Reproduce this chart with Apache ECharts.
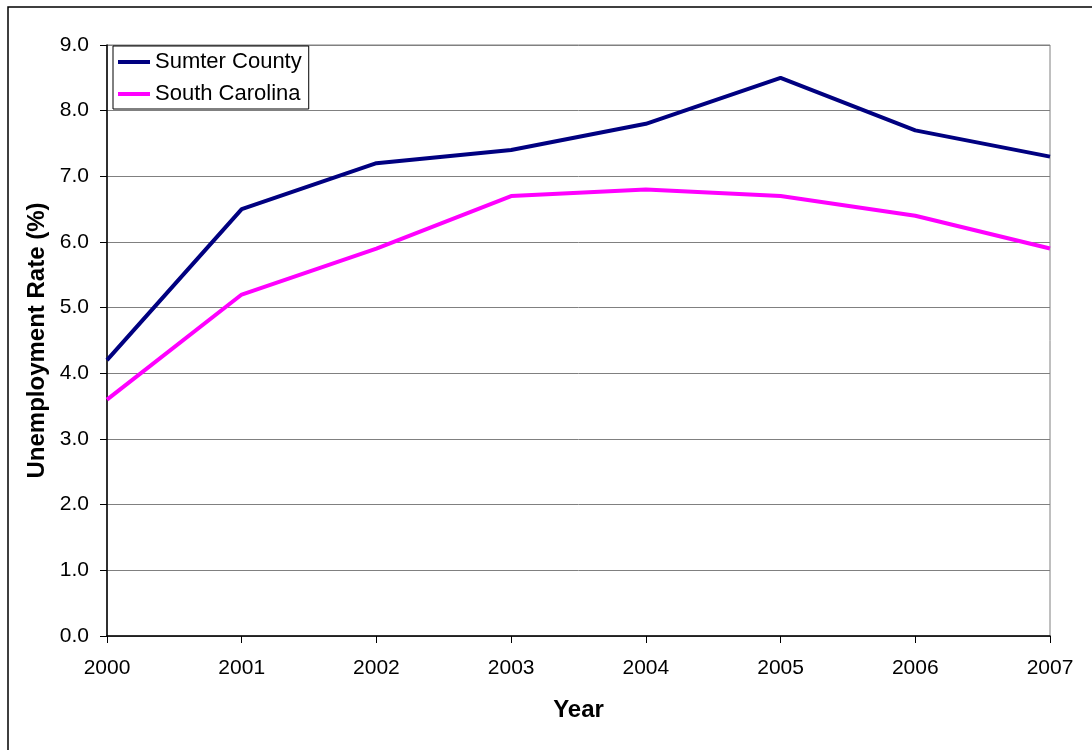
<!DOCTYPE html>
<html>
<head>
<meta charset="utf-8">
<script src="https://cdn.jsdelivr.net/npm/echarts@6/dist/echarts.min.js"></script>
<style>
  html, body { margin: 0; padding: 0; background: #fff; }
  #chart { width: 1092px; height: 750px; }
</style>
</head>
<body>
<div id="chart"></div>
<script>
// Annual unemployment rates, 2000-2007
const years = ['2000', '2001', '2002', '2003', '2004', '2005', '2006', '2007'];
const sumterCounty = [4.2, 6.5, 7.2, 7.4, 7.8, 8.5, 7.7, 7.3];
const southCarolina = [3.6, 5.2, 5.9, 6.7, 6.8, 6.7, 6.4, 5.9];
const seriesNames = ['Sumter County', 'South Carolina'];

const FONT = 'Arial, "Liberation Sans", sans-serif';

const chart = echarts.init(document.getElementById('chart'));
chart.setOption({
  animation: false,
  backgroundColor: '#fff',
  textStyle: { fontFamily: FONT },
  graphic: [{
    type: 'rect',
    shape: { x: 8, y: 7, width: 1100, height: 760 },
    style: { fill: 'none', stroke: '#000', lineWidth: 1.5 },
    silent: true
  }],
  grid: {
    left: 107, right: 42, top: 45, bottom: 114,
    show: true, borderColor: '#808080', borderWidth: 1,
    containLabel: false
  },
  legend: {
    orient: 'vertical',
    left: 113, top: 46,
    padding: [5, 7, 4, 5],
    itemGap: 10,
    itemWidth: 32, itemHeight: 4,
    icon: 'rect',
    borderColor: '#000', borderWidth: 1,
    backgroundColor: '#fff',
    textStyle: { fontSize: 22, color: '#000', fontFamily: FONT },
    data: seriesNames
  },
  xAxis: {
    type: 'category',
    data: years,
    boundaryGap: false,
    name: 'Year',
    nameLocation: 'middle',
    nameGap: 62,
    nameTextStyle: { fontSize: 24, fontWeight: 'bold', color: '#000', fontFamily: FONT },
    axisLine: { lineStyle: { color: '#000', width: 1.5 } },
    axisTick: { show: true, length: 7, lineStyle: { color: '#000' } },
    axisLabel: { fontSize: 21, color: '#000', margin: 22, fontFamily: FONT },
    splitLine: { show: false }
  },
  yAxis: {
    type: 'value',
    min: 0, max: 9, interval: 1,
    name: 'Unemployment Rate (%)',
    nameLocation: 'middle',
    nameGap: 58,
    nameTextStyle: { fontSize: 24, fontWeight: 'bold', color: '#000', fontFamily: FONT },
    axisLine: { show: true, lineStyle: { color: '#000', width: 1.5 } },
    axisTick: { show: true, length: 7, lineStyle: { color: '#000' } },
    axisLabel: {
      fontSize: 21, color: '#000', margin: 18, fontFamily: FONT,
      formatter: v => v.toFixed(1)
    },
    splitLine: { show: true, lineStyle: { color: '#808080', width: 1 } }
  },
  series: [
    {
      name: seriesNames[0],
      type: 'line',
      data: sumterCounty,
      symbol: 'none',
      lineStyle: { color: '#000080', width: 4 },
      itemStyle: { color: '#000080' }
    },
    {
      name: seriesNames[1],
      type: 'line',
      data: southCarolina,
      symbol: 'none',
      lineStyle: { color: '#FF00FF', width: 4 },
      itemStyle: { color: '#FF00FF' }
    }
  ]
});
</script>
</body>
</html>
